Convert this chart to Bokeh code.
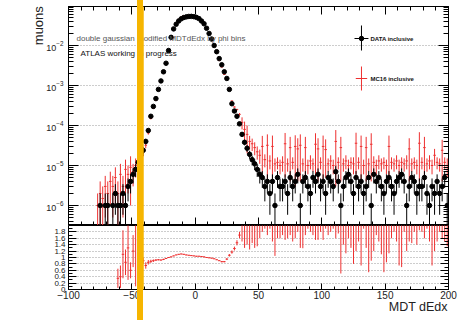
import math
from bokeh.plotting import figure
from bokeh.layouts import column
from bokeh.models import (FixedTicker, LinearAxis, Range1d, Label,
                          BoxAnnotation, ColumnDataSource, CustomJSTickFormatter)
from bokeh.embed import file_html
from bokeh.resources import INLINE

FONT = "Liberation Sans"
UNIT = 1e-6            # histogram contents below are given in units of 1e-6
HALF_BIN = 1.0         # bins are 2 MDT-dEdx units wide

# ---------------- DATA inclusive (black points) ----------------
data_x = [-75, -71, -69, -65, -63, -61, -59, -57, -55, -53, -51, -49, -47, -45, -43, -41,
          -39, -37, -35, -33, -31, -29, -27, -25, -23, -21, -19, -17, -15, -13, -11, -9,
          -7, -5, -3, -1, 1, 3, 5, 7, 9, 11, 13, 15, 17, 19, 21, 23,
          25, 27, 29, 31, 33, 35, 37, 39, 41, 43, 45, 47, 49, 51,
          53, 55, 57, 59, 61, 63, 65, 67, 69, 71, 73, 75, 77, 79, 81, 83,
          85, 87, 89, 91, 93, 95, 97, 99, 101, 103, 105, 107, 109, 111, 113, 115,
          117, 119, 121, 123, 125, 127, 129, 131, 133, 135, 137, 139, 141, 143, 145, 147,
          149, 151, 153, 155, 157, 159, 161, 163, 165, 167, 169, 171, 173, 175, 177, 179,
          181, 183, 185, 187, 189, 191, 193, 195, 197, 199]
data_u = [1, 1, 1, 1, 2, 1, 1, 2, 1, 3, 4, 6, 8, 12, 18, 24,
          40, 75, 170, 300, 470, 800, 1300, 2200, 3600, 7500, 16000, 26000, 34000, 41000, 46500, 50000,
          52000, 53300, 53500, 52500, 50500, 47000, 41000, 35000, 27000, 20000, 14500, 10000, 7000, 4700, 3300, 2200,
          1500, 800, 350, 230, 170, 110, 60, 38, 27, 19, 14, 11, 8, 6,
          5, 3, 4, 2, 4, 1, 5, 3, 3, 4, 2, 5, 3, 4, 6, 1,
          4, 5, 3, 2, 5, 4, 6, 3, 4, 2, 5, 4, 3, 7, 4, 1,
          3, 5, 6, 4, 2, 5, 3, 4, 2, 3, 5, 1, 6, 4, 5, 3,
          2, 4, 5, 3, 2, 4, 5, 6, 4, 1, 3, 5, 4, 2, 3, 3,
          5, 2, 1, 3, 2, 4, 2, 3, 5, 1]

# ---------------- MC16 inclusive (red histogram with errors) ----------------
mc_x = [-77, -75, -73, -71, -69, -67, -65, -63, -61, -59, -57, -55, -53, -51, -49, -47,
        -45, -43, -41, -39, -37, -35, -33, -31, -29, -27, -25, -23, -21, -19, -17, -15,
        -13, -11, -9, -7, -5, -3, -1, 1, 3, 5, 7, 9, 11, 13, 15, 17,
        19, 21, 23, 25, 27, 29, 31, 33, 35, 37, 39, 41, 43, 45, 47, 49,
        51, 53, 55, 57, 59, 61, 63, 65, 67, 69, 71, 73, 75, 77, 79, 81,
        83, 85, 87, 89, 91, 93, 95, 97, 99, 101, 103, 105, 107, 109, 111, 113,
        115, 117, 119, 121, 123, 125, 127, 129, 131, 133, 135, 137, 139, 141, 143, 145,
        147, 149, 151, 153, 155, 157, 159, 161, 163, 165, 167, 169, 171, 173, 175, 177,
        179, 181, 183, 185, 187, 189, 191, 193, 195, 197, 199]
mc_u = [1, 2, 1.5, 3, 2, 4, 3, 5, 2, 6, 3, 8, 6, 9, 7, 10,
        9, 15, 22, 32, 65, 150, 270, 430, 750, 1200, 2070, 3500, 7500, 16300, 27300, 36700,
        45000, 51600, 55000, 56200, 57000, 56700, 55100, 52500, 48900, 42200, 35700, 27000, 19800, 14200, 9600, 6500,
        4200, 2900, 1900, 1430, 860, 410, 290, 250, 190, 120, 80, 60, 40, 35, 28, 22,
        18, 30, 14, 32, 13, 30, 11, 12, 10, 12, 35, 11, 28, 12, 30, 26,
        32, 11, 28, 10, 13, 11, 34, 26, 12, 30, 25, 11, 13, 10, 40, 12,
        28, 11, 13, 10, 12, 11, 36, 12, 30, 10, 28, 11, 34, 12, 10, 13,
        11, 12, 10, 30, 12, 11, 13, 10, 12, 11, 13, 26, 11, 12, 10, 36,
        12, 28, 11, 13, 10, 18, 12, 11, 24, 12, 10]
mc_err_u = [1, 2, 1.5, 2.5, 2, 3, 2.5, 4, 2, 5, 2.5, 6, 4, 8, 4, 5,
            3, 4, 5, 5, 6, 8, 10, 12, 15, 20, 25, 30, 50, 80, 100, 120,
            130, 140, 150, 150, 150, 150, 150, 140, 140, 130, 120, 100, 90, 80, 60, 50,
            40, 30, 25, 20, 15, 12, 10, 12, 15, 40, 45, 40, 15, 12, 10, 8,
            7, 25, 5, 28, 5, 26, 4, 4, 4, 5, 30, 4, 24, 4, 27, 22,
            28, 4, 24, 4, 5, 4, 30, 22, 4, 26, 20, 4, 5, 4, 37, 4,
            24, 4, 5, 4, 4, 5, 30, 4, 26, 4, 24, 4, 30, 5, 4, 5,
            4, 4, 4, 26, 4, 4, 5, 4, 4, 4, 5, 22, 4, 4, 4, 32,
            4, 24, 4, 5, 4, 8, 4, 4, 20, 4, 5]

# ---------------- ratio panel (red) ----------------
ratio_x = [-61, -59, -57, -55, -53, -51, -49, -47, -45, -43, -41,
           -39, -37, -35, -33, -31, -29, -27, -25, -23, -21, -19, -17, -15, -13, -11, -9,
           -7, -5, -3, -1, 1, 3, 5, 7, 9, 11, 13, 15, 17, 19, 21, 23,
           25, 27, 29, 31, 33, 35, 37, 39, 41, 43, 45, 47, 49, 51,
           53, 55, 57, 59, 61, 63, 65, 67, 69, 71, 73, 75, 77, 79, 81, 83,
           85, 87, 89, 91, 93, 95, 97, 99, 101, 103, 105, 107, 109, 111, 113, 115,
           117, 119, 121, 123, 125, 127, 129, 131, 133, 135, 137, 139, 141, 143, 145, 147,
           149, 151, 153, 155, 157, 159, 161, 163, 165, 167, 169, 171, 173, 175, 177, 179,
           181, 183, 185, 187, 189, 191, 193, 195, 197, 199]
ratio_val = [0.35, 0.40, 1.10, 0.85, 1.30, 0.60, 1.20, 2.40, 1.55, 1.10, 0.90,
             0.75, 0.85, 0.88, 0.90, 0.92, 0.93, 0.92, 0.94, 0.97, 1.00, 1.02, 1.05, 1.08, 1.10, 1.11, 1.10,
             1.08, 1.07, 1.06, 1.05, 1.04, 1.04, 1.03, 1.02, 1.00, 0.99, 0.98, 0.96, 0.93, 0.90, 0.87, 0.87,
             0.95, 1.07, 1.17, 1.28, 1.46, 1.70, 3.10, 3.50, 3.00, 3.45, 4.45, 2.90, 3.55, 3.20,
             4.80, 4.10, 3.30, 4.90, 3.70, 2.65, 4.60, 3.80, 3.30, 4.55, 3.80, 3.30, 4.50, 3.80, 3.40, 4.30,
             3.49, 3.30, 4.90, 4.00, 3.30, 4.55, 3.75, 3.40, 4.55, 4.10, 3.30, 4.80, 4.10, 3.20, 4.75, 2.70,
             3.00, 4.13, 3.80, 2.90, 3.80, 3.40, 3.10, 3.75, 4.10, 2.90, 3.54, 3.10, 2.80, 4.70, 3.70, 2.70,
             3.54, 3.05, 2.73, 4.60, 4.00, 3.10, 3.75, 2.90, 3.40, 4.20, 3.70, 3.05, 4.80, 3.60, 3.45, 4.80,
             3.80, 3.50, 4.50, 2.95, 2.80, 4.50, 4.00, 3.20, 4.50, 3.55]
ratio_err = [0.30, 0.35, 0.75, 0.40, 1.00, 0.25, 0.50, 2.30, 0.40, 0.20, 0.10,
             0.10, 0.07, 0.05, 0.04, 0.03, 0.02, 0.02, 0.02, 0.01, 0.01, 0.01, 0.01, 0.01, 0.01, 0.01, 0.01,
             0.01, 0.01, 0.01, 0.01, 0.01, 0.01, 0.01, 0.01, 0.01, 0.01, 0.01, 0.01, 0.01, 0.01, 0.02, 0.02,
             0.03, 0.04, 0.05, 0.06, 0.08, 0.10, 1.60, 2.20, 1.60, 2.20, 3.00, 1.60, 2.20, 1.60,
             3.00, 2.20, 1.60, 3.00, 2.20, 1.60, 3.00, 2.20, 1.60, 3.00, 2.20, 1.60, 3.00, 2.20, 1.60, 3.00,
             2.20, 1.60, 3.00, 2.20, 1.60, 3.00, 2.20, 1.60, 3.00, 2.20, 1.60, 3.00, 2.20, 1.60, 3.00, 2.20,
             1.60, 3.00, 2.20, 1.60, 3.00, 2.20, 1.60, 3.00, 2.20, 1.60, 3.00, 2.20, 1.60, 3.00, 2.20, 1.60,
             3.00, 2.20, 1.60, 3.00, 2.20, 1.60, 3.00, 2.20, 1.60, 3.00, 2.20, 1.60, 3.00, 2.20, 1.60, 3.00,
             2.20, 1.60, 3.00, 2.20, 1.60, 3.00, 2.20, 1.60, 3.00, 2.20]

# ---------------- texts ----------------
y_title = "muons"
x_title = "MDT dEdx"
plot_title = "double gaussian modified MDTdEdx by phi bins"
atlas_text = "ATLAS working in progress"
legend_labels = ["DATA inclusive", "MC16 inclusive"]
x_ticks = [-100, -50, 0, 50, 100, 150, 200]
ratio_ticks = [0, 0.2, 0.4, 0.6, 0.8, 1, 1.2, 1.4, 1.6, 1.8]

# ---------------- styles / layout ----------------
RED = "#ee3030"
ORANGE = "#f6b500"
Y_LOG_MIN, Y_LOG_MAX = 10 ** -6.5, 10 ** -1.025
FLOOR = 1e-9
W = 475
H_TOP, H_BOT = 225, 95
BORDER_L, BORDER_R = 68, 27
NBSP = "\u00a0"
# titles are pushed to the end of their axis (ROOT style) with leading non-breaking spaces
Y_TITLE_PAD, X_TITLE_PAD = 50, 92

# derived columns
d_val = [u * UNIT for u in data_u]
d_err = [math.sqrt(u) * UNIT for u in data_u]
data_src = ColumnDataSource(dict(
    x=data_x, y=d_val,
    x0=[x - HALF_BIN for x in data_x], x1=[x + HALF_BIN for x in data_x],
    lo=[max(v - e, FLOOR) for v, e in zip(d_val, d_err)],
    hi=[v + e for v, e in zip(d_val, d_err)]))
m_val = [u * UNIT for u in mc_u]
m_err = [e * UNIT for e in mc_err_u]
mc_src = ColumnDataSource(dict(
    x=mc_x, y=m_val,
    x0=[x - HALF_BIN for x in mc_x], x1=[x + HALF_BIN for x in mc_x],
    lo=[max(v - e, FLOOR) for v, e in zip(m_val, m_err)],
    hi=[v + e for v, e in zip(m_val, m_err)]))
r_src = ColumnDataSource(dict(
    x=ratio_x, y=ratio_val,
    x0=[x - HALF_BIN for x in ratio_x], x1=[x + HALF_BIN for x in ratio_x],
    lo=[v - e for v, e in zip(ratio_val, ratio_err)],
    hi=[v + e for v, e in zip(ratio_val, ratio_err)]))

x_range = Range1d(-100, 200)

# ================= top panel =================
p1 = figure(width=W, height=H_TOP, x_range=x_range,
            y_range=Range1d(Y_LOG_MIN, Y_LOG_MAX), y_axis_type="log",
            output_backend="svg", toolbar_location=None,
            min_border_left=BORDER_L, min_border_right=BORDER_R,
            min_border_top=6, min_border_bottom=0)
p1.outline_line_color = "black"
p1.outline_line_width = 1
p1.background_fill_color = "white"
p1.border_fill_color = "white"
p1.xgrid.visible = False
p1.ygrid.grid_line_color = "#9a9a9a"
p1.ygrid.grid_line_dash = "1 2"
p1.ygrid.grid_line_width = 1

major_log = [1e-6, 1e-5, 1e-4, 1e-3, 1e-2]
minor_log = [k * 10.0 ** e for e in range(-7, -1) for k in range(2, 10)]
log_ticker = FixedTicker(ticks=major_log, minor_ticks=minor_log)
x_ticker = FixedTicker(ticks=x_ticks, minor_ticks=list(range(-100, 201, 10)))
blank = CustomJSTickFormatter(code="return ''")

ya = p1.yaxis[0]
ya.ticker = log_ticker
ya.major_label_text_font = FONT
ya.major_label_text_font_size = "9px"
ya.major_label_text_color = "#222222"
ya.major_label_standoff = 5
ya.major_tick_in = 10
ya.major_tick_out = 0
ya.minor_tick_in = 5
ya.minor_tick_out = 0
ya.axis_line_color = "black"
ya.axis_label = NBSP * Y_TITLE_PAD + y_title
ya.axis_label_text_font = FONT
ya.axis_label_text_font_size = "13px"
ya.axis_label_text_font_style = "normal"
ya.axis_label_text_color = "#222222"
ya.axis_label_standoff = -3

def hidden_axis(ax):
    ax.formatter = blank
    ax.major_label_text_font_size = "1px"
    ax.major_label_standoff = 0
    ax.major_tick_out = 0
    ax.minor_tick_out = 0

xa = p1.xaxis[0]
xa.ticker = x_ticker
hidden_axis(xa)
xa.major_tick_in = 8
xa.minor_tick_in = 4

ra = LinearAxis(ticker=log_ticker)
hidden_axis(ra)
ra.major_tick_in = 10
ra.minor_tick_in = 5
p1.add_layout(ra, "right")

ta = LinearAxis(ticker=x_ticker)
hidden_axis(ta)
ta.major_tick_in = 8
ta.minor_tick_in = 4
p1.add_layout(ta, "above")

# MC histogram (red)
p1.segment(x0="x0", x1="x1", y0="y", y1="y", source=mc_src, line_color=RED, line_width=1)
p1.segment(x0="x", x1="x", y0="lo", y1="hi", source=mc_src, line_color=RED, line_width=1)
# data (black)
p1.segment(x0="x", x1="x", y0="lo", y1="hi", source=data_src, line_color="black", line_width=1)
p1.segment(x0="x0", x1="x1", y0="y", y1="y", source=data_src, line_color="black", line_width=1)
p1.scatter(x="x", y="y", source=data_src, marker="circle", size=4.5,
           fill_color="black", line_color="black")

# texts
p1.add_layout(Label(x=-93.7, y=10 ** -1.825, text=plot_title, text_font=FONT,
                    text_font_size="8px", text_color="#555555", text_baseline="middle"))
p1.add_layout(Label(x=-90.5, y=10 ** -2.2, text=atlas_text, text_font=FONT,
                    text_font_size="8px", text_color="#111111", text_baseline="middle"))

# legend (positions in data coordinates of the top panel)
LEG_X, LEG_TX = 131.3, 138.4
LEG_Y = [10 ** -1.825, 10 ** -2.825]
LEG_YLO = [10 ** -2.125, 10 ** -3.125]
LEG_YHI = [10 ** -1.5, 10 ** -2.525]
p1.segment(x0=[LEG_X - 5.5], x1=[LEG_X + 5.5], y0=[LEG_Y[0]], y1=[LEG_Y[0]], line_color="black")
p1.segment(x0=[LEG_X], x1=[LEG_X], y0=[LEG_YLO[0]], y1=[LEG_YHI[0]], line_color="black")
p1.scatter(x=[LEG_X], y=[LEG_Y[0]], size=4.5, fill_color="black", line_color="black")
p1.segment(x0=[LEG_X - 4.5], x1=[LEG_X + 4.5], y0=[LEG_Y[1]], y1=[LEG_Y[1]], line_color=RED)
p1.segment(x0=[LEG_X], x1=[LEG_X], y0=[LEG_YLO[1]], y1=[LEG_YHI[1]], line_color=RED)
for lab, yy in zip(legend_labels, LEG_Y):
    p1.add_layout(Label(x=LEG_TX, y=yy, text=lab, text_font=FONT, text_font_size="6px",
                        text_font_style="bold", text_color="#111111", text_baseline="middle"))

ORANGE_L, ORANGE_R = -45.3, -40.6
p1.add_layout(BoxAnnotation(left=ORANGE_L, right=ORANGE_R, bottom=FLOOR, top=10.0,
                            fill_color=ORANGE, fill_alpha=1.0, line_color=None, level="overlay"))

# ================= ratio panel =================
p2 = figure(width=W, height=H_BOT, x_range=x_range, y_range=Range1d(0, 2),
            output_backend="svg", toolbar_location=None,
            min_border_left=BORDER_L, min_border_right=BORDER_R,
            min_border_top=0, min_border_bottom=31)
p2.outline_line_color = "black"
p2.outline_line_width = 1
p2.background_fill_color = "white"
p2.border_fill_color = "white"
p2.xgrid.visible = False
p2.ygrid.grid_line_color = "#9a9a9a"
p2.ygrid.grid_line_dash = "1 2"
p2.ygrid.grid_line_width = 1

r_ticker = FixedTicker(ticks=ratio_ticks, minor_ticks=[0.1, 0.3, 0.5, 0.7, 0.9, 1.1, 1.3, 1.5, 1.7, 1.9])
ly = p2.yaxis[0]
ly.ticker = r_ticker
ly.major_label_text_font = FONT
ly.major_label_text_font_size = "8px"
ly.major_label_text_color = "#222222"
ly.major_label_standoff = 3
ly.major_tick_in = 8
ly.major_tick_out = 0
ly.minor_tick_in = 4
ly.minor_tick_out = 0

bx = p2.xaxis[0]
bx.ticker = x_ticker
bx.major_label_text_font = FONT
bx.major_label_text_font_size = "10px"
bx.major_label_text_color = "#222222"
bx.major_label_standoff = 1
bx.major_tick_in = 6
bx.major_tick_out = 0
bx.minor_tick_in = 3
bx.minor_tick_out = 0
bx.axis_label = NBSP * X_TITLE_PAD + x_title
bx.axis_label_text_font = FONT
bx.axis_label_text_font_size = "12.5px"
bx.axis_label_text_font_style = "normal"
bx.axis_label_text_color = "#222222"
bx.axis_label_standoff = -2

rr = LinearAxis(ticker=r_ticker)
hidden_axis(rr)
rr.major_tick_in = 8
rr.minor_tick_in = 4
p2.add_layout(rr, "right")

p2.segment(x0="x0", x1="x1", y0="y", y1="y", source=r_src, line_color=RED, line_width=1)
p2.segment(x0="x", x1="x", y0="lo", y1="hi", source=r_src, line_color=RED, line_width=1)

p2.add_layout(BoxAnnotation(left=ORANGE_L, right=ORANGE_R, bottom=-5.0, top=5.0,
                            fill_color=ORANGE, fill_alpha=1.0, line_color=None, level="overlay"))

# the orange vertical marker of the original screenshot runs over the whole picture
overlay_css = (":host { position: relative; } "
               ":host::after { content: ''; position: absolute; left: 137px; top: 0px; "
               "width: 6px; height: 320px; background: " + ORANGE + "; z-index: 10; }")
layout = column(p1, p2, spacing=0, stylesheets=[overlay_css])
open("out.html", "w").write(file_html(layout, INLINE))
